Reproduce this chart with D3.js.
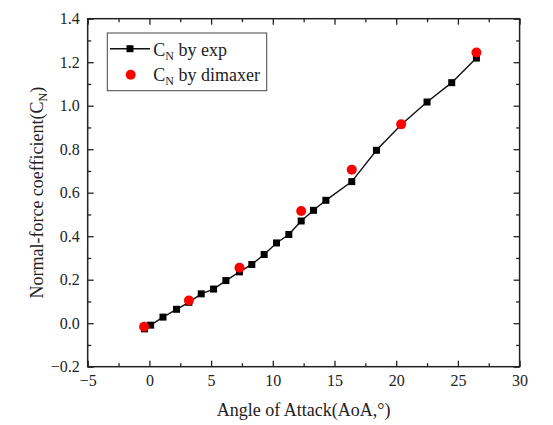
<!DOCTYPE html>
<html>
<head>
<meta charset="utf-8">
<script src="https://cdnjs.cloudflare.com/ajax/libs/d3/7.8.5/d3.min.js"></script>
<style>
  body { margin: 0; background: #fff; }
  svg text { font-family: "Liberation Serif", "Times New Roman", serif; fill: #222; }
</style>
</head>
<body>
<svg id="chart"></svg>
<script>
// experimental data (black squares)
var expAoA = [-0.4, 0.1, 1.1, 2.2, 3.2, 4.2, 5.2, 6.2, 7.3, 8.3, 9.3, 10.3, 11.3, 12.3, 13.3, 14.3, 16.4, 18.4, 20.4, 22.5, 24.5, 26.5];
var expCN  = [-0.026, -0.009, 0.028, 0.064, 0.096, 0.135, 0.157, 0.196, 0.236, 0.27, 0.316, 0.369, 0.408, 0.47, 0.519, 0.565, 0.651, 0.795, 0.912, 1.017, 1.106, 1.219];
// dimaxer results (red dots)
var dimAoA = [-0.43, 3.2, 7.3, 12.3, 16.4, 20.4, 26.5];
var dimCN  = [-0.016, 0.104, 0.255, 0.516, 0.706, 0.915, 1.245];
// ticks
var xTicks = [-5, 0, 5, 10, 15, 20, 25, 30];
var yTicks = [-0.2, 0.0, 0.2, 0.4, 0.6, 0.8, 1.0, 1.2, 1.4];
var xMinor = [-2.5, 2.5, 7.5, 12.5, 17.5, 22.5, 27.5];
var yMinor = [-0.1, 0.1, 0.3, 0.5, 0.7, 0.9, 1.1, 1.3];

var width = 553, height = 425;
var pLeft = 87.7, pRight = 519.6, pTop = 18.7, pBottom = 366.7;
var serif = '"Liberation Serif", "Times New Roman", serif';

var svg = d3.select("#chart").attr("width", width).attr("height", height);

var x = d3.scaleLinear().domain([-5, 30]).range([pLeft, pRight]);
var y = d3.scaleLinear().domain([-0.2, 1.4]).range([pBottom, pTop]);

// frame ticks (all inward)
function drawAxis(axis, tx, ty) {
    var g = svg.append("g").attr("transform", "translate(" + tx + "," + ty + ")").call(axis);
    g.attr("font-family", serif);
    g.select(".domain").remove();
    g.selectAll("line").attr("stroke", "#222").attr("stroke-width", 1.3);
    g.selectAll("text")
        .style("font-family", serif)
        .style("font-size", "16px")
        .attr("fill", "#222");
    return g;
}
drawAxis(d3.axisBottom(x).tickValues(xTicks).tickSize(-6).tickPadding(8).tickFormat(d3.format("d")), 0, pBottom);
drawAxis(d3.axisBottom(x).tickValues(xMinor).tickSize(-3.5).tickFormat(""), 0, pBottom);
drawAxis(d3.axisTop(x).tickValues(xTicks).tickSize(-6).tickFormat(""), 0, pTop);
drawAxis(d3.axisTop(x).tickValues(xMinor).tickSize(-3.5).tickFormat(""), 0, pTop);
drawAxis(d3.axisLeft(y).tickValues(yTicks).tickSize(-6).tickPadding(8).tickFormat(d3.format(".1f")), pLeft, 0);
drawAxis(d3.axisLeft(y).tickValues(yMinor).tickSize(-3.5).tickFormat(""), pLeft, 0);
drawAxis(d3.axisRight(y).tickValues(yTicks).tickSize(-6).tickFormat(""), pRight, 0);
drawAxis(d3.axisRight(y).tickValues(yMinor).tickSize(-3.5).tickFormat(""), pRight, 0);

// frame
svg.append("rect")
    .attr("x", pLeft).attr("y", pTop)
    .attr("width", pRight - pLeft).attr("height", pBottom - pTop)
    .attr("fill", "none").attr("stroke", "#222").attr("stroke-width", 1.5);

// line + squares
var expData = expAoA.map(function(d, i) { return [d, expCN[i]]; });
svg.append("path")
    .datum(expData)
    .attr("fill", "none")
    .attr("stroke", "#111")
    .attr("stroke-width", 1.4)
    .attr("d", d3.line().x(function(d) { return x(d[0]); }).y(function(d) { return y(d[1]); }));

var sq = 7;
svg.selectAll("rect.exp")
    .data(expData)
    .enter()
    .append("rect")
    .attr("class", "exp")
    .attr("x", function(d) { return x(d[0]) - sq / 2; })
    .attr("y", function(d) { return y(d[1]) - sq / 2; })
    .attr("width", sq).attr("height", sq)
    .attr("fill", "#000");

// red dots
svg.selectAll("circle.dim")
    .data(dimAoA.map(function(d, i) { return [d, dimCN[i]]; }))
    .enter()
    .append("circle")
    .attr("class", "dim")
    .attr("cx", function(d) { return x(d[0]); })
    .attr("cy", function(d) { return y(d[1]); })
    .attr("r", 5)
    .attr("fill", "#f00");

// axis titles
svg.append("text")
    .attr("x", (pLeft + pRight) / 2).attr("y", 416)
    .attr("text-anchor", "middle")
    .style("font-size", "18px")
    .text("Angle of Attack(AoA,°)");

var yt = svg.append("text")
    .attr("transform", "translate(43," + ((pTop + pBottom) / 2) + ") rotate(-90)")
    .attr("text-anchor", "middle")
    .style("font-size", "18px");
yt.append("tspan").text("Normal-force coefficient(C");
yt.append("tspan").attr("dy", 4).style("font-size", "12px").text("N");
yt.append("tspan").attr("dy", -4).text(")");

// legend
var lg = svg.append("g");
lg.append("rect")
    .attr("x", 107.3).attr("y", 33)
    .attr("width", 159.4).attr("height", 57.7)
    .attr("fill", "#fff").attr("stroke", "#444").attr("stroke-width", 1);
lg.append("line")
    .attr("x1", 110).attr("x2", 150).attr("y1", 48.7).attr("y2", 48.7)
    .attr("stroke", "#111").attr("stroke-width", 1.4);
lg.append("rect")
    .attr("x", 130 - sq / 2).attr("y", 48.7 - sq / 2)
    .attr("width", sq).attr("height", sq).attr("fill", "#000");
lg.append("circle")
    .attr("cx", 130.7).attr("cy", 74.7).attr("r", 5).attr("fill", "#f00");

var legendLabels = ["by exp", "by dimaxer"];
legendLabels.forEach(function(lbl, i) {
    var t = lg.append("text")
        .attr("x", 153.3).attr("y", 55.5 + i * 25)
        .style("font-size", "18px");
    t.append("tspan").text("C");
    t.append("tspan").attr("dy", 4).style("font-size", "12px").text("N");
    t.append("tspan").attr("dy", -4).text(" " + lbl);
});
</script>
</body>
</html>
